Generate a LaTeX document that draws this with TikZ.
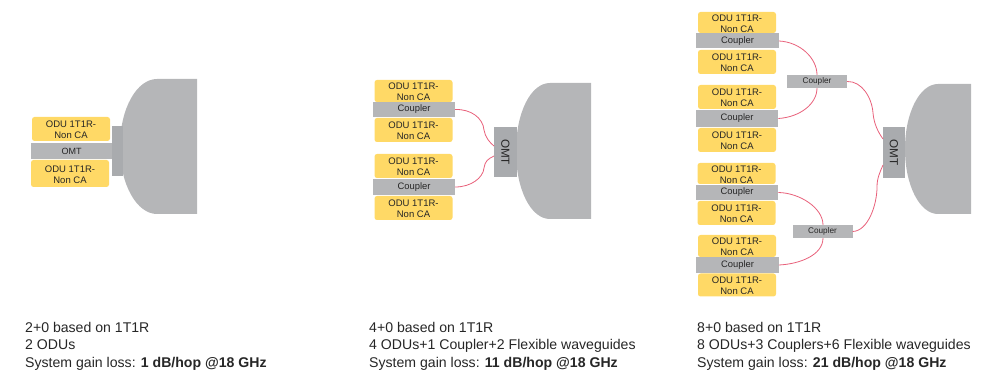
\documentclass[tikz,border=0pt]{standalone}
\usepackage{fontspec}
\setmainfont{Liberation Sans}
\definecolor{dishgray}{HTML}{B5B6B8}
\definecolor{neckgray}{HTML}{A9ABAE}
\definecolor{oduyellow}{HTML}{FFD966}
\definecolor{wave}{HTML}{E8607A}
\definecolor{ink}{HTML}{262626}
\newcommand\odutxt{\rule{0pt}{8.8pt}ODU 1T1R-\\Non CA}
\tikzset{
  odu/.style={fill=oduyellow,rounded corners=2.5pt,inner sep=0pt,minimum width=78pt,align=center,text=ink,font=\fontsize{9.5}{11}\selectfont},
  bar/.style={fill=dishgray,inner sep=0pt,text=ink,font=\fontsize{9.4}{11}\selectfont},
  midbar/.style={fill=dishgray,inner sep=0pt,minimum width=60pt,minimum height=13.5pt,text=ink,font=\fontsize{8.2}{10}\selectfont},
  neck/.style={fill=neckgray,inner sep=0pt},
  vlabel/.style={rotate=-90,text=ink,inner sep=0pt,font=\fontsize{11.7}{13}\selectfont},
  dish/.style={fill=dishgray,draw=none},
  flex/.style={draw=wave,line width=0.8pt},
  caption/.style={anchor=north west,inner sep=0pt,align=left,text=ink,font=\fontsize{14.1}{17.5}\selectfont}
}
\begin{document}
\begin{tikzpicture}[x=1pt,y=-1pt]
\useasboundingbox (0,0) rectangle (985,371);
% ---- left
\fill[dish] (197,79) -- (157,79) .. controls (137,79) and (120,108) .. (120,146.5) .. controls (120,185) and (137,214) .. (157,214) -- (197,214) -- cycle;
\node[neck,minimum width=11pt,minimum height=50pt] (neckA) at (117,151) {};
\node[odu,minimum height=24pt] (a1) at (71,129) {\odutxt};
\node[bar,minimum width=81pt,minimum height=16pt,font=\fontsize{9}{11}\selectfont] (aomt) at (71.5,151) {OMT};
\node[odu,minimum height=27pt] (a2) at (70,173.5) {\odutxt};
% ---- middle
\fill[dish] (591,83) -- (550,83) .. controls (531,83) and (516,112) .. (516,151) .. controls (516,190) and (531,219) .. (550,219) -- (591,219) -- cycle;
\node[neck,minimum width=23pt,minimum height=50pt] (bomt) at (505.5,152) {};
\node[vlabel] (bomtlabel) at (505.5,152) {OMT};
\coordinate (bin1) at (494,146);
\coordinate (bin2) at (494,156);
\node[odu,minimum height=22pt] (b1) at (413.5,91) {\odutxt};
\node[bar,minimum width=82pt,minimum height=15pt] (bc1) at (414,109.5) {Coupler};
\node[odu,minimum height=24pt] (b2) at (413.5,130) {\odutxt};
\node[odu,minimum height=24pt] (b3) at (413.5,166) {\odutxt};
\node[bar,minimum width=82pt,minimum height=16pt] (bc2) at (414,187) {Coupler};
\node[odu,minimum height=24pt] (b4) at (413.5,208) {\odutxt};
\draw[flex] (bc1.east) .. controls (471,109) and (483,118) .. (484,130) .. controls (485,137) and (490,143) .. (bin1);
\draw[flex] (bc2.east) .. controls (471,187) and (483,178) .. (484,168) .. controls (485,161) and (488,159) .. (bin2);
% ---- right
\begin{scope}
\clip (880,0) rectangle (971,371);
\fill[dish] (971,84) -- (938,84) .. controls (920,84) and (905,112) .. (905,149) .. controls (905,186) and (920,214) .. (938,214) -- (971,214) -- cycle;
\end{scope}
\node[neck,minimum width=22pt,minimum height=50.5pt] (comt) at (894,152.5) {};
\node[vlabel] (comtlabel) at (894,152.5) {OMT};
\coordinate (cin1) at (883,139);
\coordinate (cin2) at (883,165);
\node[odu,minimum height=21pt] (c1) at (737,22.5) {\odutxt};
\node[bar,minimum width=82.5pt,minimum height=15pt] (cc1) at (737.5,41) {Coupler};
\node[odu,minimum height=24pt] (c2) at (737,62) {\odutxt};
\node[odu,minimum height=24pt] (c3) at (737,97) {\odutxt};
\node[bar,minimum width=82.5pt,minimum height=16.5pt] (cc2) at (737,118.5) {Coupler};
\node[odu,minimum height=24pt] (c4) at (737,140) {\odutxt};
\node[odu,minimum height=21pt] (c5) at (736.5,173.5) {\odutxt};
\node[bar,minimum width=82.5pt,minimum height=15.5pt] (cc3) at (737,192.5) {Coupler};
\node[odu,minimum height=24pt] (c6) at (736.5,213) {\odutxt};
\node[odu,minimum height=22pt] (c7) at (737,246) {\odutxt};
\node[bar,minimum width=82.5pt,minimum height=16.5pt] (cc4) at (737.5,265) {Coupler};
\node[odu,minimum height=23pt] (c8) at (737,285) {\odutxt};
\draw[flex] (cc1.east) .. controls (800,42) and (817,58) .. (817,75);
\draw[flex] (cc2.east) .. controls (800,117) and (817,104) .. (817,88);
\draw[flex] (cc3.east) .. controls (800,193) and (823,208) .. (823,225);
\draw[flex] (cc4.east) .. controls (800,264) and (823,255) .. (823,238);
\node[midbar] (cm1) at (817,81.5) {Coupler};
\node[midbar] (cm2) at (822.5,231.5) {Coupler};
\draw[flex] (cm1.east) .. controls (862,81) and (872,98) .. (873,113) .. controls (874,124) and (878,132) .. (cin1);
\draw[flex] (cm2.east) .. controls (868,231) and (877,205) .. (877,187) .. controls (877,178) and (880,172) .. (cin2);
% ---- captions
\node[caption] (ta) at (25,322) {2+0 based on 1T1R\\2 ODUs\\System gain loss: \textbf{1 dB/hop @18 GHz}};
\node[caption] (tb) at (369,322) {4+0 based on 1T1R\\4 ODUs+1 Coupler+2 Flexible waveguides\\System gain loss: \textbf{11 dB/hop @18 GHz}};
\node[caption] (tc) at (697,322) {8+0 based on 1T1R\\8 ODUs+3 Couplers+6 Flexible waveguides\\System gain loss: \textbf{21 dB/hop @18 GHz}};
\end{tikzpicture}
\end{document}
